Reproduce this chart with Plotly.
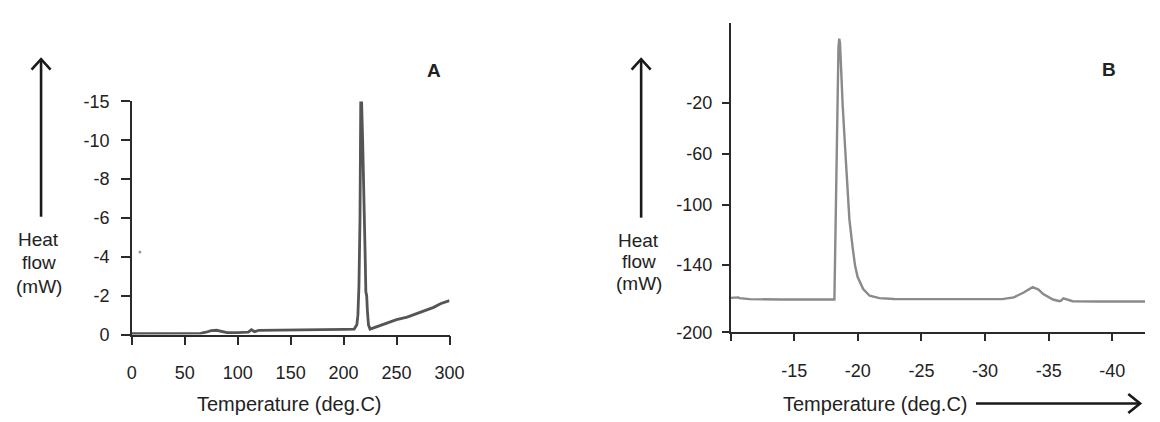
import plotly.graph_objects as go

W, H = 1160, 422

# ---------------- Panel A data ----------------
a_temp = [0, 20, 40, 65, 70, 75, 80, 85, 90, 100, 110, 113, 116, 120, 130, 150, 180, 200, 210,
          212.5, 213.5, 214.5, 215.5, 216.2, 217.0, 218.0, 219.0, 219.8, 220.4, 221.0, 221.8,
          222.5, 223.5, 225.0, 230, 242, 250, 260, 273, 285, 292, 300]
a_flow = [-0.05, -0.05, -0.05, -0.06, -0.12, -0.2, -0.22, -0.15, -0.1, -0.1, -0.12, -0.25, -0.15,
          -0.22, -0.22, -0.23, -0.25, -0.27, -0.28,
          -0.5, -1.0, -2.5, -6.0, -12.0, -12.0, -10.0, -8.0, -6.0, -4.0, -2.2, -2.0,
          -1.2, -0.5, -0.28, -0.38, -0.61, -0.77, -0.9, -1.15, -1.4, -1.6, -1.75]
a_dot_temp = [7.7]
a_dot_flow = [-4.25]
a_xticks = [0, 50, 100, 150, 200, 250, 300]
a_yticks = [0, -2, -4, -6, -8, -10, -12]
a_yticktext = ["0", "-2", "-4", "-6", "-8", "-10", "-15"]

# ---------------- Panel B data ----------------
b_temp = [-10.0, -10.5, -10.6, -10.7, -11.5, -14, -18.0, -18.16, -18.48, -18.54, -18.6, -18.81,
          -19.07, -19.34, -19.6, -19.78, -19.98, -20.2, -20.42, -20.93, -21.7, -22.86, -25, -28,
          -31.0, -31.35, -32.25, -33.0, -33.74, -34.2, -34.57, -35.34, -35.85, -36.0, -36.16,
          -36.5, -36.88, -39, -42.57]
b_flow = [-173.0, -172.8, -172.6, -173.2, -174.0, -174.3, -174.3, -174.3, 24, 30.6, 27, -21.7,
          -66.6, -111.5, -133.9, -147.4, -156.4, -162.0, -166.1, -171.3, -173.2, -173.9, -174.0, -174.2,
          -174.3, -174.0, -172.6, -169.0, -164.6, -166.5, -170.0, -174.3, -175.6, -175.0, -173.3,
          -174.5, -175.6, -175.8, -175.8]
b_xticks = [-10, -15, -20, -25, -30, -35, -40]
b_xticktext = ["", "-15", "-20", "-25", "-30", "-35", "-40"]
b_yticks = [-20, -60, -100, -147, -200]
b_yticktext = ["-20", "-60", "-100", "-140", "-200"]

FONT = "Liberation Sans, Arial, Helvetica, sans-serif"
AX = "#2a2a2a"
TXT = "#222222"


def px(x):
    return x / W


def py(y):
    return 1 - y / H


fig = go.Figure()
fig.add_trace(go.Scatter(x=a_temp, y=a_flow, mode="lines",
                         line=dict(color="#555555", width=2.8), xaxis="x", yaxis="y",
                         showlegend=False, hoverinfo="skip"))
fig.add_trace(go.Scatter(x=a_dot_temp, y=a_dot_flow, mode="markers",
                         marker=dict(color="#9a9a9a", size=3), xaxis="x", yaxis="y",
                         showlegend=False, hoverinfo="skip"))
fig.add_trace(go.Scatter(x=b_temp, y=b_flow, mode="lines",
                         line=dict(color="#8a8a8a", width=2.4), xaxis="x2", yaxis="y2",
                         showlegend=False, hoverinfo="skip"))

common = dict(showline=True, linecolor=AX, linewidth=1.5, ticks="outside", tickcolor=AX,
              tickwidth=1.5, showgrid=False, zeroline=False,
              tickfont=dict(family=FONT, size=18, color=TXT), fixedrange=True)

fig.update_layout(
    width=W, height=H, margin=dict(l=0, r=0, t=0, b=0),
    paper_bgcolor="white", plot_bgcolor="white",
    xaxis=dict(domain=[px(129), px(452.3)], range=[0, 300], tickvals=a_xticks,
               ticklen=9, ticklabelstandoff=12, anchor="y", **common),
    yaxis=dict(domain=[py(340.7), py(96)], range=[0, -12], tickvals=a_yticks,
               ticktext=a_yticktext, ticklen=9, ticklabelstandoff=8, anchor="x", **common),
    xaxis2=dict(domain=[px(738.3), 1.0], range=[-10, -42.57], tickvals=b_xticks,
                ticktext=b_xticktext, ticklen=7, ticklabelstandoff=14, anchor="y2", **common),
    yaxis2=dict(domain=[py(338.3), py(14)], range=[-200, 42.6], tickvals=b_yticks,
                ticktext=b_yticktext, ticklen=7, ticklabelstandoff=6, anchor="x2", **common),
)

ann = []


def text(x, y, s, size=19, bold=False):
    ann.append(dict(x=px(x), y=py(y), xref="paper", yref="paper", text=("<b>%s</b>" % s) if bold else s,
                    showarrow=False, xanchor="center", yanchor="middle",
                    font=dict(family=FONT, size=size, color=TXT)))


# Panel A texts
text(34.5, 241, "Heat")
text(34.5, 265.5, "flow")
text(34.5, 290, "(mW)")
text(289, 414, "Temperature (deg.C)", size=20)
text(437, 63, "A", size=19, bold=True)
# Panel B texts
text(645, 242, "Heat")
text(645, 264.5, "flow")
text(645, 287, "(mW)")
text(885.5, 414, "Temperature (deg.C)", size=20)
text(1123, 62, "B", size=19, bold=True)
fig.update_layout(annotations=ann)

shapes = []


def seg(x0, y0, x1, y1, w=2.6):
    shapes.append(dict(type="line", xref="paper", yref="paper", x0=px(x0), y0=py(y0),
                       x1=px(x1), y1=py(y1), line=dict(color="#1a1a1a", width=w)))


def chevron(pts, w=2.6):
    d = "M " + " L ".join("%f,%f" % (px(a), py(b)) for a, b in pts)
    shapes.append(dict(type="path", xref="paper", yref="paper", path=d,
                       line=dict(color="#1a1a1a", width=w)))


# up arrow A
seg(36.7, 217, 36.7, 52)
chevron([(27, 62.5), (36.7, 51.5), (46.4, 62.5)])
# up arrow B
seg(647.3, 218, 647.3, 52)
chevron([(637.6, 62.5), (647.3, 51.5), (657, 62.5)])
# right arrow B
seg(988, 413, 1154, 413)
chevron([(1143, 403), (1155, 413), (1143, 423)])
fig.update_layout(shapes=shapes)

fig.write_html("out.html")
